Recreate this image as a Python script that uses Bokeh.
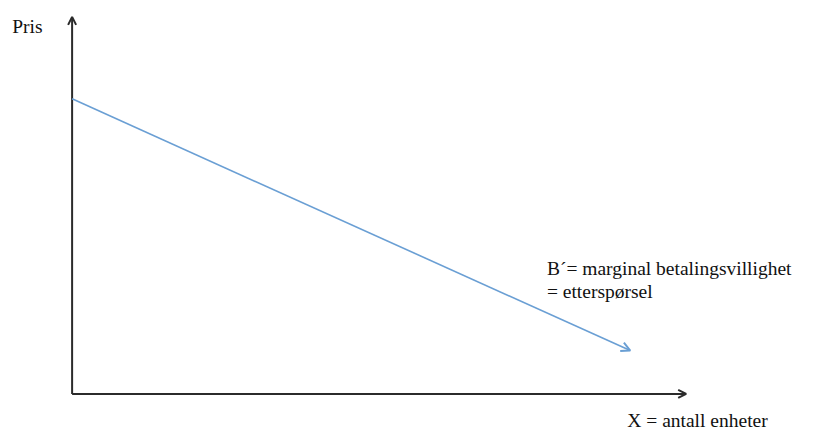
from bokeh.plotting import figure
from bokeh.models import Range1d, Arrow, OpenHead, ColumnDataSource
from bokeh.core.properties import value
from bokeh.embed import file_html
from bokeh.resources import INLINE

# Data (abstract units: quantity X, price)
demand_x = [0, 569]          # quantity
demand_y = [306, 45]         # marginal willingness to pay
axis_x_max = 626
axis_y_max = 391

label_y_axis = "Pris"
label_x_axis = "X = antall enheter"
label_curve = ["B\u00b4= marginal betalingsvillighet", "= ettersp\u00f8rsel"]

p = figure(width=823, height=431, output_backend="svg", toolbar_location=None,
           x_range=Range1d(-73, 766), y_range=Range1d(-39, 408), min_border=0)
p.axis.visible = False
p.grid.visible = False
p.outline_line_color = None
p.background_fill_color = "white"
p.border_fill_color = "white"

axis_color = "#2b2b2b"
# axes as arrows
p.add_layout(Arrow(end=OpenHead(size=8, line_width=2, line_color=axis_color),
                   x_start=0, y_start=0, x_end=0, y_end=axis_y_max,
                   line_color=axis_color, line_width=2))
p.add_layout(Arrow(end=OpenHead(size=8, line_width=2, line_color=axis_color),
                   x_start=0, y_start=0, x_end=axis_x_max, y_end=0,
                   line_color=axis_color, line_width=2))

# demand curve
curve_color = "#6a9fd4"
p.add_layout(Arrow(end=OpenHead(size=9, line_width=2, line_color=curve_color),
                   x_start=demand_x[0], y_start=demand_y[0],
                   x_end=demand_x[1], y_end=demand_y[1],
                   line_color=curve_color, line_width=1.6))

font = value("Liberation Serif, Times New Roman, DejaVu Serif, serif")
txt = ColumnDataSource(dict(
    x=[-61, 484, 484, 566],
    y=[381, 130, 106, -28],
    t=[label_y_axis, label_curve[0], label_curve[1], label_x_axis],
))
p.text(x="x", y="y", text="t", source=txt, text_font=font, text_font_size="19.5px",
       text_color="#111111", text_baseline="alphabetic", text_align="left")

open("out.html", "w").write(file_html(p, INLINE))
